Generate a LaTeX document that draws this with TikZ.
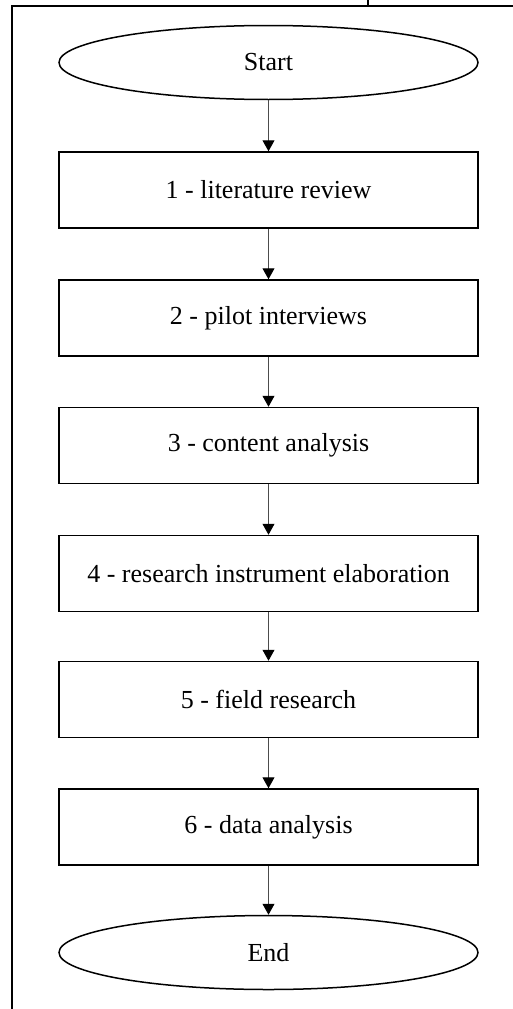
\documentclass[tikz,border=0pt]{standalone}
\usepackage{fontspec}
\setmainfont{Liberation Serif}
\usepackage{tikz}
\usetikzlibrary{shapes.geometric, positioning, arrows.meta}

\begin{document}
\begin{tikzpicture}[x=1pt, y=-1pt,
          stepbox/.style={rectangle, draw, line width=1.5pt, minimum width=419pt,
                          minimum height=76pt, font=\fontsize{26}{30}\selectfont, align=center},
          term/.style={ellipse, draw, line width=1.5pt, minimum width=419pt,
                       minimum height=74pt, font=\fontsize{26}{30}\selectfont},
          arr/.style={-{Triangle[width=12pt, length=11pt, black]}, line width=1pt, black!70}
        ]
        \useasboundingbox (0,0) rectangle (513,1009);
        % frame
        \draw[line width=2pt] (11.5,1009) -- (11.5,6) -- (513,6);
        \draw[line width=2pt] (368,0) -- (368,6);

        % flow
        \node[term]    (start) at (268.5, 62.5)  {Start};
        \node[stepbox] (lit)   at (268.5, 190)   {1 - literature review};
        \node[stepbox] (pilot) at (268.5, 318)   {2 - pilot interviews};
        \node[stepbox] (cont)  at (268.5, 445.5) {3 - content analysis};
        \node[stepbox] (instr) at (268.5, 573.5) {4 - research instrument elaboration};
        \node[stepbox] (field) at (268.5, 699.5) {5 - field research};
        \node[stepbox] (data)  at (268.5, 827)   {6 - data analysis};
        \node[term]    (end)   at (268.5, 952.5) {End};

        \draw[arr] (start)--(lit);
        \draw[arr] (lit)--(pilot);
        \draw[arr] (pilot)--(cont);
        \draw[arr] (cont)--(instr);
        \draw[arr] (instr)--(field);
        \draw[arr] (field)--(data);
        \draw[arr] (data)--(end);
      \end{tikzpicture}
\end{document}
